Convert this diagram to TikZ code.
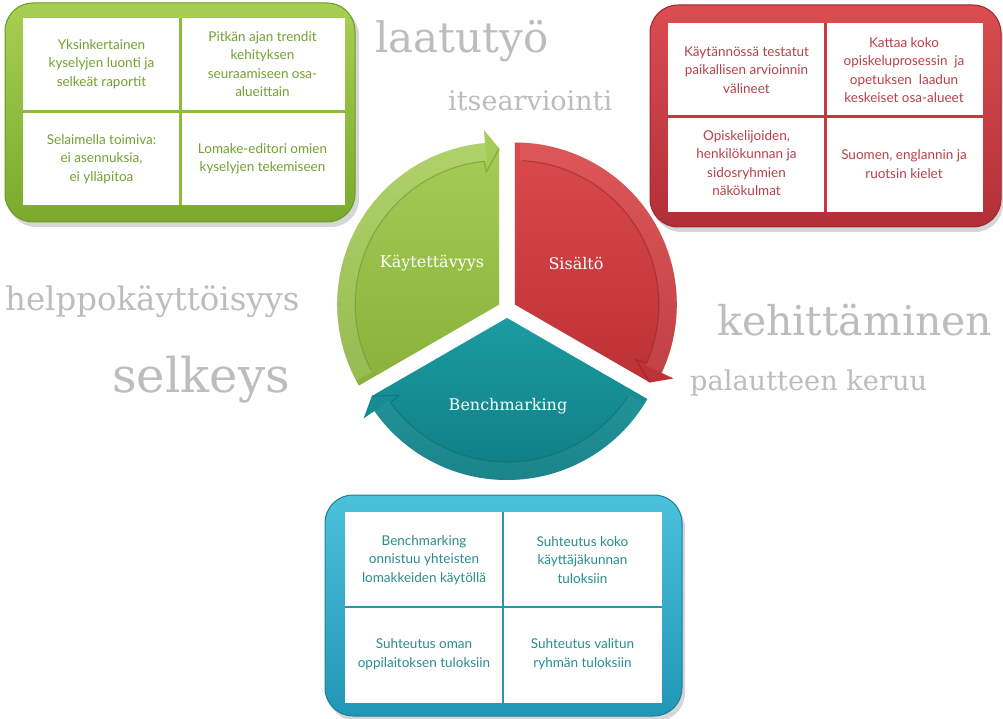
\documentclass[tikz,border=0pt]{standalone}
\usepackage{fontspec}
\setmainfont{DejaVu Serif}
\newfontfamily\boxfont{Lato}
\usetikzlibrary{calc}
\definecolor{gtop}{HTML}{A6D052}
\definecolor{gbot}{HTML}{7BAA2C}
\definecolor{gedge}{HTML}{6C9826}
\definecolor{ggrid}{HTML}{8DBB3C}
\definecolor{gtxt}{HTML}{74A030}
\definecolor{rtop}{HTML}{DA4D51}
\definecolor{rbot}{HTML}{B22F37}
\definecolor{redge}{HTML}{9C2730}
\definecolor{rgrid}{HTML}{C23A3F}
\definecolor{rtxt}{HTML}{B8404A}
\definecolor{btop}{HTML}{4CC1DC}
\definecolor{bbot}{HTML}{2296B6}
\definecolor{bedge}{HTML}{1D7F9A}
\definecolor{bgrid}{HTML}{2B95A8}
\definecolor{btxt}{HTML}{2A8C8E}
\definecolor{sgtop}{HTML}{A8CD58}
\definecolor{sgbot}{HTML}{88B23A}
\definecolor{sgline}{HTML}{6A8E2C}
\definecolor{srtop}{HTML}{DB494C}
\definecolor{srbot}{HTML}{BC3135}
\definecolor{srline}{HTML}{8C2226}
\definecolor{sbtop}{HTML}{1B9BA0}
\definecolor{sbbot}{HTML}{0E7E83}
\definecolor{sbline}{HTML}{0A5E62}
\definecolor{wordgrey}{HTML}{BDBDBD}
\tikzset{
  frame/.style={rounded corners=28pt, line width=1pt},
  shadowbox/.style={fill=black, opacity=.16, rounded corners=28pt},
  cell/.style={font=\boxfont\fontsize{13.5}{18.5}\selectfont, align=center, inner sep=0pt},
  word/.style={text=wordgrey, anchor=base west, inner sep=0pt},
  seclabel/.style={text=white, font=\fontsize{16}{18}\selectfont, inner sep=0pt},
  band/.style={line width=1.1pt, opacity=.55}
}
\begin{document}
\begin{tikzpicture}[x=1pt,y=1pt]
\useasboundingbox (0,0) rectangle (1003,-719);
\fill[white] (0,0) rectangle (1003,-719);

% grey words
\node[word, font=\fontsize{42}{46}\selectfont] (w1) at (375,-53) {laatutyö};
\node[word, font=\fontsize{27}{30}\selectfont] (w2) at (448,-111) {itsearviointi};
\node[word, font=\fontsize{32.4}{35}\selectfont] (w3) at (5,-310) {helppokäyttöisyys};
\node[word, font=\fontsize{48}{52}\selectfont] (w4) at (112,-392) {selkeys};
\node[word, font=\fontsize{41}{44}\selectfont] (w5) at (717,-335) {kehittäminen};
\node[word, font=\fontsize{27.2}{30}\selectfont] (w6) at (690,-390) {palautteen keruu};

% green box
\fill[shadowbox] (8,-8) rectangle (359,-227);
\shadedraw[frame, top color=gtop, bottom color=gbot, draw=gedge] (5,-3) rectangle (355,-222);
\fill[white] (23,-18) rectangle (345,-205);
\draw[ggrid, line width=3pt] (180,-18) -- (180,-205) (23,-112) -- (345,-112);
\node[cell, text=gtxt] (g1) at (101.5,-64) {Yksinkertainen\\kyselyjen luonti ja\\selkeät raportit};
\node[cell, text=gtxt] (g2) at (262.5,-64) {Pitkän ajan trendit\\kehityksen\\seuraamiseen osa-\\alueittain};
\node[cell, text=gtxt] (g3) at (101.5,-159) {Selaimella toimiva:\\ei asennuksia,\\ei ylläpitoa};
\node[cell, text=gtxt] (g4) at (262.5,-159) {Lomake-editori omien\\kyselyjen tekemiseen};

% red box
\fill[shadowbox] (653,-10) rectangle (1003,-232);
\shadedraw[frame, top color=rtop, bottom color=rbot, draw=redge] (650,-5) rectangle (1001,-227);
\fill[white] (668,-23) rectangle (983,-212);
\draw[rgrid, line width=3pt] (825,-23) -- (825,-212) (668,-117) -- (983,-117);
\node[cell, text=rtxt] (r1) at (746.5,-70) {Käytännössä testatut\\paikallisen arvioinnin\\välineet};
\node[cell, text=rtxt] (r2) at (904,-70) {Kattaa koko\\opiskeluprosessin\ \ ja\\opetuksen\ \ laadun\\keskeiset osa-alueet};
\node[cell, text=rtxt] (r3) at (746.5,-163) {Opiskelijoiden,\\henkilökunnan ja\\sidosryhmien\\näkökulmat};
\node[cell, text=rtxt] (r4) at (904,-164) {Suomen, englannin ja\\ruotsin kielet};

% blue box
\fill[shadowbox] (328,-500) rectangle (685,-721);
\shadedraw[frame, top color=btop, bottom color=bbot, draw=bedge] (325,-495) rectangle (682,-716);
\fill[white] (345,-512) rectangle (662,-703);
\draw[bgrid, line width=2pt] (503,-512) -- (503,-703) (345,-607) -- (662,-607);
\node[cell, text=btxt] (b1) at (424,-560) {Benchmarking\\onnistuu yhteisten\\lomakkeiden käytöllä};
\node[cell, text=btxt] (b2) at (582.5,-560) {Suhteutus koko\\käyttäjäkunnan\\tuloksiin};
\node[cell, text=btxt] (b3) at (424,-654) {Suhteutus oman\\oppilaitoksen tuloksiin};
\node[cell, text=btxt] (b4) at (582.5,-654) {Suhteutus valitun\\ryhmän tuloksiin};

% central cycle
\coordinate (O) at (507,-309);
\coordinate (Cg) at ($(O)+(150:9)$);
\coordinate (Cr) at ($(O)+(30:9)$);
\coordinate (Cb) at ($(O)+(270:9)$);

% shadows of sectors
\fill[black, opacity=.12, shift={(2,-3)}] (Cg) -- ($(Cg)+(210:162)$) arc[start angle=210, end angle=95, radius=162] -- ($(Cg)+(95:175)$) -- ($(Cg)+(90:156)$) -- cycle;
\fill[black, opacity=.12, shift={(2,-3)}] (Cr) -- ($(Cr)+(90:162)$) arc[start angle=90, end angle=-25, radius=162] -- ($(Cr)+(-25:175)$) -- ($(Cr)+(-30:156)$) -- cycle;
\fill[black, opacity=.12, shift={(2,-3)}] (Cb) -- ($(Cb)+(-30:162)$) arc[start angle=-30, end angle=-145, radius=162] -- ($(Cb)+(-145:175)$) -- ($(Cb)+(-150:156)$) -- cycle;

% green sector
\shade[top color=sgtop, bottom color=sgbot] (Cg) -- ($(Cg)+(210:162)$) arc[start angle=210, end angle=95, radius=162] -- ($(Cg)+(95:175)$) -- ($(Cg)+(90:156)$) -- cycle;
\fill[white, opacity=.12] ($(Cg)+(208:162)$) arc[start angle=208, end angle=95, radius=162] -- ($(Cg)+(95:144)$) arc[start angle=95, end angle=208, radius=144] -- cycle;
\draw[sgline, band] ($(Cg)+(207:144)$) arc[start angle=207, end angle=96, radius=144] -- ($(Cg)+(95.6:133)$) -- ($(Cg)+(90:156)$);

% red sector
\shade[top color=srtop, bottom color=srbot] (Cr) -- ($(Cr)+(90:162)$) arc[start angle=90, end angle=-25, radius=162] -- ($(Cr)+(-25:175)$) -- ($(Cr)+(-30:156)$) -- cycle;
\fill[white, opacity=.08] ($(Cr)+(88:162)$) arc[start angle=88, end angle=-25, radius=162] -- ($(Cr)+(-25:144)$) arc[start angle=-25, end angle=88, radius=144] -- cycle;
\draw[srline, band] ($(Cr)+(87:144)$) arc[start angle=87, end angle=-24, radius=144] -- ($(Cr)+(-24.4:133)$) -- ($(Cr)+(-30:156)$);

% blue sector
\shade[top color=sbtop, bottom color=sbbot] (Cb) -- ($(Cb)+(-30:162)$) arc[start angle=-30, end angle=-145, radius=162] -- ($(Cb)+(-145:175)$) -- ($(Cb)+(-150:156)$) -- cycle;
\fill[white, opacity=.05] ($(Cb)+(-32:162)$) arc[start angle=-32, end angle=-145, radius=162] -- ($(Cb)+(-145:144)$) arc[start angle=-145, end angle=-32, radius=144] -- cycle;
\draw[sbline, band, opacity=.4] ($(Cb)+(-33:144)$) arc[start angle=-33, end angle=-144, radius=144] -- ($(Cb)+(-144.4:133)$) -- ($(Cb)+(-150:156)$);

\node[seclabel] (kay) at (432,-263) {Käytettävyys};
\node[seclabel] (sis) at (576,-263) {Sisältö};
\node[seclabel] (ben) at (508,-406) {Benchmarking};
\end{tikzpicture}
\end{document}
